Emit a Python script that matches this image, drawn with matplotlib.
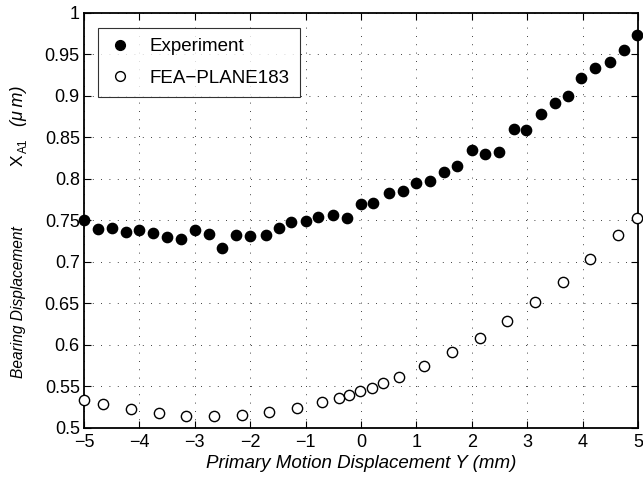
import matplotlib
matplotlib.use("Agg")
import matplotlib.pyplot as plt
from matplotlib.ticker import FixedLocator, FixedFormatter

plt.rcParams['font.family'] = ['Liberation Sans', 'DejaVu Sans']
plt.rcParams['mathtext.fontset'] = 'custom'
plt.rcParams['mathtext.rm'] = 'Liberation Sans'
plt.rcParams['mathtext.it'] = 'Liberation Sans:italic'

# Measured bearing displacement
exp_y = [-5.0, -4.75, -4.5, -4.25, -4.0, -3.75, -3.5, -3.25, -3.0, -2.75,
         -2.5, -2.25, -2.0, -1.72, -1.48, -1.27, -1.0, -0.77, -0.5, -0.26,
         0.0, 0.22, 0.5, 0.75, 1.0, 1.24, 1.49, 1.74, 2.0, 2.24,
         2.49, 2.76, 2.98, 3.25, 3.5, 3.74, 3.98, 4.22, 4.49, 4.74, 4.99]
exp_x = [0.750, 0.740, 0.741, 0.736, 0.739, 0.735, 0.730, 0.728, 0.739, 0.734,
         0.717, 0.732, 0.731, 0.733, 0.741, 0.748, 0.749, 0.754, 0.757, 0.753,
         0.770, 0.771, 0.783, 0.786, 0.795, 0.797, 0.809, 0.816, 0.835, 0.830,
         0.832, 0.860, 0.859, 0.878, 0.892, 0.900, 0.922, 0.934, 0.941, 0.955, 0.973]

# Finite element prediction (PLANE183)
fea_y = [-5.0, -4.66, -4.16, -3.65, -3.16, -2.66, -2.15, -1.66, -1.16, -0.70,
         -0.40, -0.21, -0.02, 0.19, 0.39, 0.69, 1.14, 1.64, 2.14, 2.64,
         3.14, 3.64, 4.13, 4.64, 4.98]
fea_x = [0.534, 0.529, 0.5225, 0.518, 0.515, 0.514, 0.5155, 0.519, 0.5245, 0.531,
         0.536, 0.540, 0.5445, 0.5486, 0.554, 0.561, 0.5745, 0.591, 0.609, 0.629,
         0.652, 0.676, 0.703, 0.732, 0.753]

x_ticks = [-5, -4, -3, -2, -1, 0, 1, 2, 3, 4, 5]
x_labels = ['\u22125', '\u22124', '\u22123', '\u22122', '\u22121', '0', '1', '2', '3', '4', '5']
y_ticks = [0.5, 0.55, 0.6, 0.65, 0.7, 0.75, 0.8, 0.85, 0.9, 0.95, 1.0]
y_labels = ['0.5', '0.55', '0.6', '0.65', '0.7', '0.75', '0.8', '0.85', '0.9', '0.95', '1']

W, H = 643, 483
fig = plt.figure(figsize=(W / 100, H / 100), dpi=100)
ax = fig.add_axes([0.1306, 0.1139, 0.8616, 0.8592])

ax.plot(exp_y, exp_x, 'o', color='black', markersize=7.4, linestyle='none',
        label='Experiment', clip_on=False, zorder=3)
ax.plot(fea_y, fea_x, 'o', markerfacecolor='white', markeredgecolor='black',
        markeredgewidth=1.0, markersize=7.4, linestyle='none',
        label='FEA\u2212PLANE183', clip_on=False, zorder=3)

ax.set_xlim(-5, 5)
ax.set_ylim(0.5, 1.0)
ax.xaxis.set_major_locator(FixedLocator(x_ticks))
ax.xaxis.set_major_formatter(FixedFormatter(x_labels))
ax.yaxis.set_major_locator(FixedLocator(y_ticks))
ax.yaxis.set_major_formatter(FixedFormatter(y_labels))

ax.grid(True, color='black', linestyle=(0, (1, 9)), linewidth=0.6)
ax.tick_params(direction='in', top=True, right=True, length=5, width=0.8,
               labelsize=13, pad=3)
ax.tick_params(axis='x', pad=4)
for s in ax.spines.values():
    s.set_linewidth(1.3)

ax.set_xlabel('Primary Motion Displacement Y (mm)', fontsize=13.5,
              fontstyle='italic', labelpad=3)


# y-axis title assembled from pieces (italic words, upright symbol, subscript)
def ylabel_piece(text, y_px, base_px, size, style):
    fig.text(base_px / W, 1 - y_px / H, text, rotation=90,
             rotation_mode='anchor', ha='center', va='baseline',
             fontsize=size, fontstyle=style)


ylabel_piece('Bearing Displacement', 302, 23, 11.2, 'italic')
ylabel_piece('X', 160, 23, 12.5, 'normal')
ylabel_piece('A1', 146, 27, 8.5, 'normal')
ylabel_piece('(\u03bc\u2009m)', 106, 23, 13, 'italic')

leg = ax.legend(loc='upper left', bbox_to_anchor=(0.025, 0.964), fontsize=13.5,
                frameon=True, fancybox=False, edgecolor='black',
                handlelength=1.3, handletextpad=0.9, borderpad=0.55,
                borderaxespad=0, labelspacing=0.75, markerscale=0.95)
leg.get_frame().set_linewidth(0.8)

fig.savefig('out.png', dpi=100)
